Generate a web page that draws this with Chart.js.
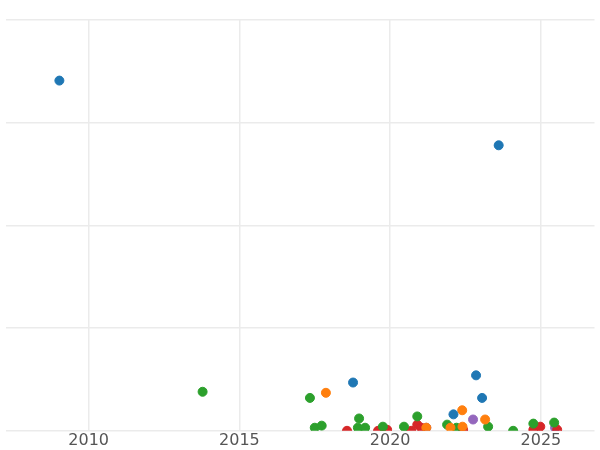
<!DOCTYPE html><html><head><script src="https://cdn.jsdelivr.net/npm/chart.js@4"></script>
<style>body{margin:0}#w{width:600px;height:450px}</style></head><body><div id="w"><canvas id="c"></canvas></div><script>
const blueX=[2009.03,2023.6,2018.77,2022.85,2023.05,2022.1];
const blueY=[341,278,47,54,32,16];
const orangeX=[2017.87,2022.39,2023.15,2021.2,2022.0,2022.4];
const orangeY=[37,20,11,3,3,4];
const greenX=[2013.78,2017.34,2017.5,2017.73,2018.97,2018.93,2019.17,2019.76,2020.46,2020.9,2021.89,2022.2,2023.25,2024.08,2024.75,2025.44];
const greenY=[38,32,3,5,12,3,3,4,4,14,6,3,4,0,7,8];
const redX=[2018.57,2019.6,2019.9,2020.7,2020.9,2021.03,2022.42,2024.75,2024.98,2025.54];
const redY=[0,0,1,0,6,3,1,1,4,1];
const purpleX=[2021.2,2022.75,2025.47];
const purpleY=[3,11,3];
const xTicks=[2010,2015,2020,2025];
const mk=(xs,ys)=>xs.map((x,i)=>({x,y:ys[i]}));
const ds=[[blueX,blueY,'#1f77b4'],[orangeX,orangeY,'#ff7f0e'],[greenX,greenY,'#2ca02c'],[redX,redY,'#d62728'],[purpleX,purpleY,'#9467bd']]
.map(([x,y,c])=>({data:mk(x,y),backgroundColor:c,borderColor:c,pointRadius:4.5,pointHoverRadius:4.5}));
new Chart(document.getElementById('c'),{type:'scatter',data:{datasets:ds},options:{animation:false,responsive:true,maintainAspectRatio:false,
layout:{padding:{top:20,left:0,right:0,bottom:0}},plugins:{legend:{display:false},tooltip:{enabled:false}},
scales:{x:{type:'linear',min:2007.243,max:2026.778,border:{display:false},grid:{color:'#ebebeb',lineWidth:1.5,drawTicks:false},
afterBuildTicks:a=>{a.ticks=xTicks.map(v=>({value:v}));},ticks:{padding:0,color:'#555',font:{size:16,family:'DejaVu Sans'},callback:v=>String(v)}},
y:{min:0,max:400,border:{display:false},ticks:{display:false,stepSize:100},grid:{color:'#ebebeb',lineWidth:1.5,drawTicks:false}}}}});
</script></body></html>
